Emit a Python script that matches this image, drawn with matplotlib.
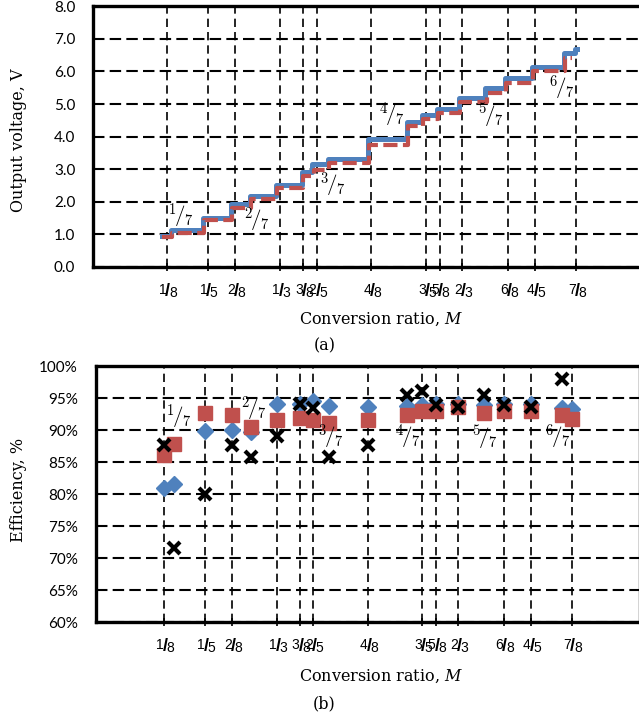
import numpy as np
import matplotlib
matplotlib.use("Agg")
from matplotlib import pyplot as plt

BLUE = '#4F81BD'
RED = '#C0504D'

# x-axis ticks: conversion ratios num/den
tick_num = [1, 1, 2, 1, 3, 2, 4, 3, 5, 2, 6, 4, 7]
tick_den = [8, 5, 8, 3, 8, 5, 8, 5, 8, 3, 8, 5, 8]

# (a) output voltage staircase (step start ratio, level in V)
step_m_blue = [0.116, 0.132, 0.192, 0.243, 0.278, 0.325, 0.372, 0.392, 0.421, 0.494,
               0.565, 0.592, 0.620, 0.660, 0.709, 0.745, 0.794, 0.853, 0.873, 0.876]
v_blue = [0.95, 1.12, 1.49, 1.92, 2.17, 2.52, 2.90, 3.15, 3.31, 3.91,
          4.44, 4.65, 4.85, 5.18, 5.48, 5.79, 6.14, 6.58, 6.70, 6.70]
step_m_red = [0.116, 0.134, 0.194, 0.245, 0.280, 0.327, 0.374, 0.394, 0.423, 0.496,
              0.567, 0.594, 0.622, 0.662, 0.711, 0.747, 0.796, 0.855, 0.868]
v_red = [0.92, 1.05, 1.45, 1.79, 2.09, 2.42, 2.80, 2.97, 3.20, 3.74,
         4.32, 4.55, 4.73, 5.06, 5.35, 5.64, 6.00, 6.40, 6.40]

# (b) efficiency at each ratio num/den
ratio_num = [1, 1, 1, 2, 2, 1, 3, 2, 3, 4, 4, 3, 5, 2, 5, 6, 4, 6, 7]
ratio_den = [8, 7, 5, 8, 7, 3, 8, 5, 7, 8, 7, 5, 8, 3, 7, 8, 5, 7, 8]
eff_blue = [81.0, 81.5, 89.8, 90.0, 89.7, 94.1, 94.0, 94.6, 93.7, 93.6,
            93.7, 93.9, 94.0, 94.1, 93.9, 94.1, 94.0, 93.4, 93.3]
eff_red = [86.1, 87.8, 92.7, 92.4, 90.5, 91.6, 91.9, 91.6, 91.1, 91.5,
           92.3, 93.0, 93.0, 93.6, 92.6, 93.0, 93.0, 92.3, 91.7]
eff_black = [87.6, 71.5, 80.0, 87.6, 85.8, 89.0, 94.0, 93.5, 85.8, 87.6,
             95.4, 96.1, 93.9, 93.6, 95.4, 93.9, 93.6, 98.0]

# n/7 annotations
ann_num = [1, 2, 3, 4, 5, 6]
ann_a_x = [0.151, 0.290, 0.430, 0.538, 0.719, 0.849]
ann_a_y = [1.55, 1.43, 2.50, 4.64, 4.64, 5.49]
ann_b_x = [0.153, 0.290, 0.432, 0.574, 0.716, 0.850]
ann_b_y = [92.0, 93.2, 88.9, 88.8, 88.7, 88.9]

tick_pos = [n / d for n, d in zip(tick_num, tick_den)]
ratio = [n / d for n, d in zip(ratio_num, ratio_den)]


def frac_tick(ax, x, n, d):
    # stacked "n/d" label under the axis, built from three pieces
    tr = ax.get_xaxis_transform()
    kw = dict(xy=(x, 0), xycoords=tr, textcoords='offset points',
              annotation_clip=False, family='Liberation Sans')
    ax.annotate(str(n), xytext=(-3.0, -11.5), ha='center', va='top', fontsize=10, **kw)
    ax.annotate('/', xytext=(0.8, -17.6), ha='center', va='center', fontsize=13,
                fontweight='bold', **kw)
    ax.annotate(str(d), xytext=(4.4, -23.8), ha='center', va='bottom', fontsize=10, **kw)


def style_axes(ax):
    for s in ax.spines.values():
        s.set_linewidth(2.4)
        s.set_color('black')
    ax.set_xticks(tick_pos)
    ax.set_xticklabels([])
    for x, n, d in zip(tick_pos, tick_num, tick_den):
        frac_tick(ax, x, n, d)
    ax.tick_params(axis='x', direction='inout', length=6, width=1.2)
    ax.tick_params(axis='y', length=0, pad=13)
    for lab in ax.get_yticklabels():
        lab.set_family('Lato')
        lab.set_fontsize(11)
    ax.xaxis.grid(True, color='black', lw=1.2, linestyle=(0, (5, 3)))
    ax.yaxis.grid(True, color='black', lw=1.5, linestyle=(0, (5.5, 2.5)))
    ax.set_axisbelow(True)


def frac7(ax, x, y, n):
    ax.text(x, y, r'$^{%d}\!\mathbf{/}_{7}$' % n, math_fontfamily='cm',
            fontsize=15, ha='center', va='center', zorder=6)


fig = plt.figure(figsize=(6.39, 7.15), dpi=100)
W, H = 639, 715

# ---- (a)
ax1 = fig.add_axes([93.3 / W, 1 - 266.7 / H, 551 / W, (266.7 - 6.4) / H])
ax1.set_xlim(-0.0095, 1.0)
ax1.set_ylim(0, 8)
ax1.set_yticks(np.arange(0, 8.01, 1.0))
ax1.set_yticklabels(['%.1f' % v for v in np.arange(0, 8.01, 1.0)])
ax1.plot(step_m_blue, v_blue, drawstyle='steps-post', color=BLUE, lw=3.6, zorder=3)
ax1.plot(step_m_red, v_red, drawstyle='steps-post', color=RED, lw=3.0,
         linestyle=(0, (3.4, 1.3)), zorder=4)
style_axes(ax1)
for n, x, y in zip(ann_num, ann_a_x, ann_a_y):
    frac7(ax1, x, y, n)

# ---- (b)
ax2 = fig.add_axes([96 / W, 1 - 622 / H, 543.6 / W, (622 - 366) / H])
ax2.set_xlim(0, 1.0)
ax2.set_ylim(60, 100)
ax2.set_yticks(np.arange(60, 100.1, 5))
ax2.set_yticklabels(['%d%%' % v for v in np.arange(60, 100.1, 5)])
ax2.plot(ratio, eff_blue, 'D', color=BLUE, ms=8, mec=BLUE, zorder=3, clip_on=False)
ax2.plot(ratio, eff_red, 's', color=RED, ms=9.5, mec=RED, zorder=4, clip_on=False)
ax2.plot(ratio[:len(eff_black)], eff_black, 'x', color='black', ms=8, mew=3,
         zorder=5, clip_on=False)
style_axes(ax2)
for n, x, y in zip(ann_num, ann_b_x, ann_b_y):
    frac7(ax2, x, y, n)

# labels
lab_kw = dict(family='DejaVu Serif', fontsize=11.5, math_fontfamily='dejavuserif')
fig.text(19 / W, 1 - 140 / H, 'Output voltage, V', rotation=90, ha='center', va='center', **lab_kw)
fig.text(19 / W, 1 - 490 / H, 'Efficiency, %', rotation=90, ha='center', va='center', **lab_kw)
fig.text(381 / W, 1 - 319 / H, r'Conversion ratio, $\mathit{M}$', ha='center', va='center', **lab_kw)
fig.text(381 / W, 1 - 676 / H, r'Conversion ratio, $\mathit{M}$', ha='center', va='center', **lab_kw)
fig.text(324.5 / W, 1 - 346 / H, '(a)', ha='center', va='center', **lab_kw)
fig.text(324.5 / W, 1 - 704 / H, '(b)', ha='center', va='center', **lab_kw)

fig.savefig('out.png', dpi=100)
